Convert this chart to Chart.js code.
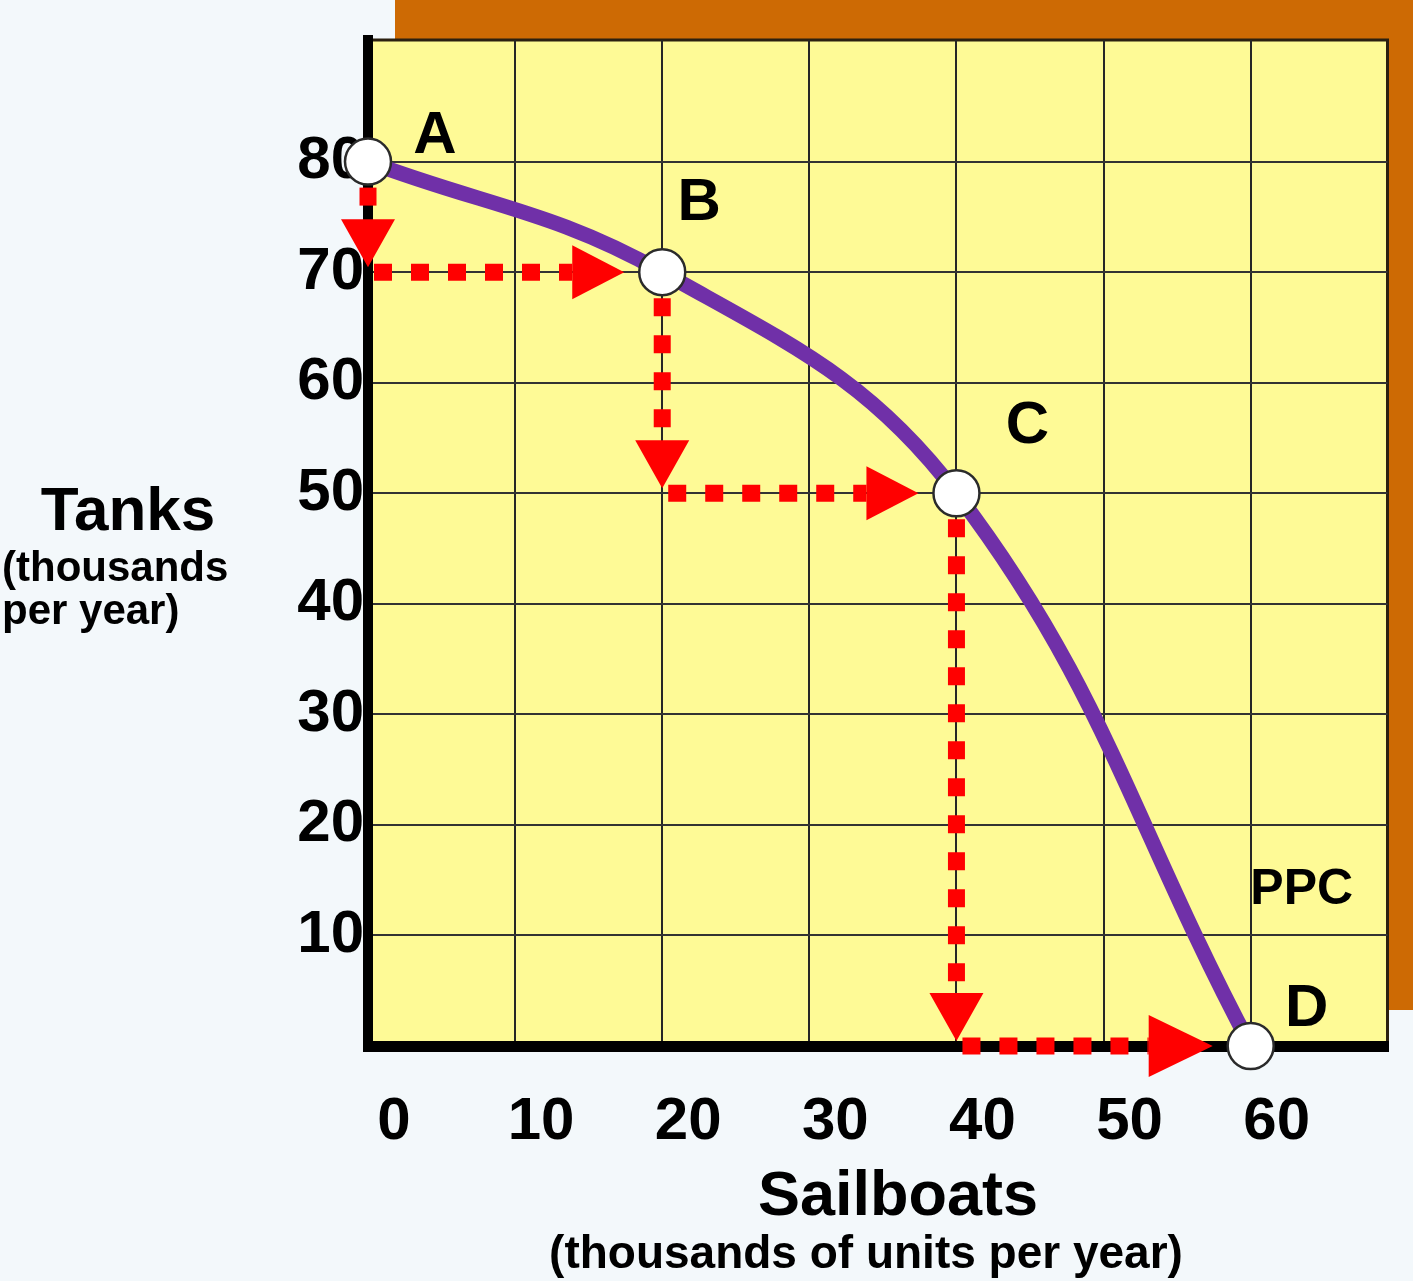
<!DOCTYPE html>
<html>
<head>
<meta charset="utf-8">
<title>Production possibilities curve</title>
<script src="https://cdn.jsdelivr.net/npm/chart.js@4.4.1/dist/chart.umd.min.js"></script>
<style>
  body { margin: 0; background: #f3f8fb; }
  #wrap { position: relative; width: 1413px; height: 1281px; font-family: "Liberation Sans", Arial, sans-serif; font-weight: bold; }
  .t { position: absolute; line-height: 1; white-space: nowrap; color: #000; }
</style>
</head>
<body>
<div id="wrap">
  <canvas id="ppc"></canvas>
  <div class="t" style="left:128px; top:478px; font-size:62px; transform:translateX(-50%)">Tanks</div>
  <div class="t" style="left:2px; top:546px; font-size:42px">(thousands</div>
  <div class="t" style="left:2px; top:589px; font-size:42px">per year)</div>
  <div class="t" style="left:898px; top:1162px; font-size:63px; transform:translateX(-50%)">Sailboats</div>
  <div class="t" style="left:866px; top:1229px; font-size:46px; transform:translateX(-50%)">(thousands of units per year)</div>
</div>
<script>
// production possibilities, thousands per year
const pointNames = ['A', 'B', 'C', 'D'];
const sailboats = [0, 20, 40, 60];
const tanks = [80, 70, 50, 0];
const xTicks = [0, 10, 20, 30, 40, 50, 60];
const yTicks = [10, 20, 30, 40, 50, 60, 70, 80];

const FONT = '"Liberation Sans", Arial, sans-serif';
const RED = '#ff0000';
const R = 24; // marker radius in px

// dotted shaft + solid triangle head
function drawArrow(ctx, x0, y0, x1, y1, len, half) {
    const d = Math.hypot(x1 - x0, y1 - y0);
    const ux = (x1 - x0) / d, uy = (y1 - y0) / d;
    const bx = x1 - ux * len, by = y1 - uy * len;
    ctx.beginPath();
    ctx.setLineDash([18, 19]);
    ctx.moveTo(x0, y0);
    ctx.lineTo(bx, by);
    ctx.stroke();
    ctx.setLineDash([]);
    ctx.beginPath();
    ctx.moveTo(x1, y1);
    ctx.lineTo(bx - uy * half, by + ux * half);
    ctx.lineTo(bx + uy * half, by - ux * half);
    ctx.closePath();
    ctx.fill();
}

// yellow graph paper with the orange shadow behind it
const panel = {
    id: 'panel',
    beforeDraw(chart) {
        const { ctx, chartArea: a, width, height } = chart;
        ctx.save();
        ctx.fillStyle = '#f3f8fb';
        ctx.fillRect(0, 0, width, height);
        ctx.fillStyle = '#cd6a04';
        ctx.fillRect(a.left + 27, 0, width - a.left - 27, a.top);
        ctx.fillRect(a.right, 0, width - a.right, a.bottom - 36);
        ctx.fillStyle = '#fefa96';
        ctx.fillRect(a.left, a.top, a.right - a.left, a.bottom - a.top);
        ctx.strokeStyle = '#2b2010';
        ctx.lineWidth = 3;
        ctx.beginPath();
        ctx.moveTo(a.left, a.top);
        ctx.lineTo(a.right, a.top);
        ctx.lineTo(a.right, a.bottom);
        ctx.stroke();
        ctx.restore();
    }
};

// red step arrows between the points (opportunity cost)
const arrows = {
    id: 'arrows',
    beforeDatasetsDraw(chart) {
        const { ctx, scales: { x, y } } = chart;
        ctx.save();
        ctx.strokeStyle = RED;
        ctx.fillStyle = RED;
        ctx.lineWidth = 17;
        ctx.lineCap = 'butt';
        for (let i = 0; i < sailboats.length - 1; i++) {
            const x0 = x.getPixelForValue(sailboats[i]);
            const y0 = y.getPixelForValue(tanks[i]);
            const x1 = x.getPixelForValue(sailboats[i + 1]);
            const y1 = y.getPixelForValue(tanks[i + 1]);
            drawArrow(ctx, x0, y0 + R + 2, x0, y1 - 5, 48, 27);
            const big = i === sailboats.length - 2;
            drawArrow(ctx, x0 + 6, y1, x1 - R - 14, y1, big ? 64 : 52, big ? 31 : 27);
        }
        ctx.restore();
    }
};

// letters next to the points and the curve name
const labelOffsets = [[67, -9], [37, -52], [71, -50], [56, -20]];
const labels = {
    id: 'labels',
    afterDatasetsDraw(chart) {
        const { ctx } = chart;
        const pts = chart.getDatasetMeta(0).data;
        ctx.save();
        ctx.fillStyle = '#000';
        ctx.textAlign = 'center';
        ctx.textBaseline = 'alphabetic';
        ctx.font = 'bold 60px ' + FONT;
        pts.forEach((p, i) => {
            ctx.fillText(pointNames[i], p.x + labelOffsets[i][0], p.y + labelOffsets[i][1]);
        });
        const last = pts[pts.length - 1];
        ctx.font = 'bold 50px ' + FONT;
        ctx.fillText('PPC', last.x + 51, last.y - 142);
        ctx.restore();
    }
};

const tickFont = { family: FONT, size: 60, weight: 'bold' };

new Chart(document.getElementById('ppc'), {
    type: 'line',
    data: {
        datasets: [{
            label: 'PPC',
            data: sailboats.map((s, i) => ({ x: s, y: tanks[i] })),
            borderColor: '#7030a8',
            borderWidth: 15,
            tension: 0.4,
            pointRadius: 23,
            pointHoverRadius: 23,
            pointBackgroundColor: '#ffffff',
            pointBorderColor: '#2b2b2b',
            pointBorderWidth: 2.5,
            clip: false
        }]
    },
    options: {
        responsive: true,
        maintainAspectRatio: false,
        animation: false,
        events: [],
        layout: { padding: { top: 40, right: 21, left: 0, bottom: 0 } },
        plugins: { legend: { display: false }, tooltip: { enabled: false } },
        scales: {
            x: {
                type: 'linear',
                min: 0,
                max: 69.3,
                afterBuildTicks: s => { s.ticks = xTicks.map(v => ({ value: v })); },
                afterFit: s => { s.height = 235; },
                grid: { color: '#262626', lineWidth: 2, drawTicks: false },
                border: { color: '#000', width: 11 },
                ticks: {
                    font: tickFont, color: '#000', padding: 40, labelOffset: 26,
                    maxRotation: 0, autoSkip: false, callback: v => String(v)
                }
            },
            y: {
                type: 'linear',
                min: 0,
                max: 91,
                afterBuildTicks: s => { s.ticks = yTicks.map(v => ({ value: v })); },
                afterFit: s => { s.width = 368; },
                grid: { color: '#333', lineWidth: 2, drawTicks: false },
                border: { color: '#000', width: 10 },
                ticks: {
                    font: tickFont, color: '#000', padding: 4,
                    autoSkip: false, callback: v => String(v)
                }
            }
        }
    },
    plugins: [panel, arrows, labels]
});
</script>
</body>
</html>
